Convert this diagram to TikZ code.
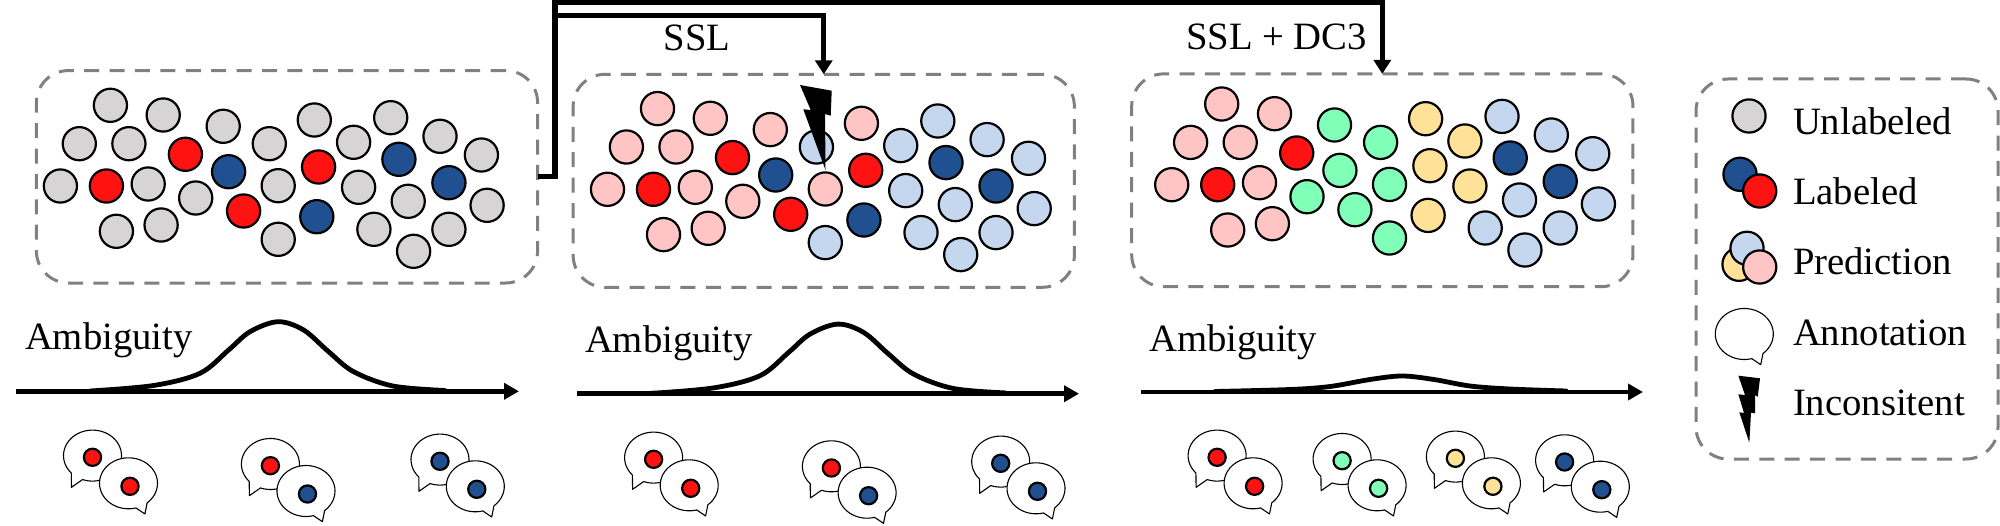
\documentclass[tikz,border=0pt]{standalone}
\usepackage{fontspec}
\setmainfont{Liberation Serif}
\usetikzlibrary{arrows.meta}
\definecolor{cgray}{HTML}{D6D4D5}
\definecolor{cred}{HTML}{FF1212}
\definecolor{cblue}{HTML}{20508F}
\definecolor{cpink}{HTML}{FFC5C5}
\definecolor{clb}{HTML}{C5D6EF}
\definecolor{cgreen}{HTML}{80FFB9}
\definecolor{cyel}{HTML}{FFE297}
\definecolor{cdash}{HTML}{808080}
\tikzset{
  dotc/.style={circle,draw=black,line width=1.1bp,minimum size=16.6bp,inner sep=0pt,outer sep=0pt},
  dots/.style={circle,draw=black,line width=1.1bp,minimum size=8.6bp,inner sep=0pt,outer sep=0pt},
  panel/.style={draw=cdash,line width=1.5bp,dash pattern=on 7.5bp off 5.2bp,rounded corners=16bp,inner sep=0pt,outer sep=0pt},
  conn/.style={draw=black,line width=2.7bp,-{Triangle[length=7bp,width=8.5bp]}},
  axisline/.style={draw=black,line width=2.4bp,-{Triangle[length=7.5bp,width=8bp]}},
  curve/.style={draw=black,line width=2.4bp,line cap=round,smooth,tension=0.55},
  bub/.style={draw=black,fill=white,line width=0.55bp,line join=round},
  lab/.style={inner sep=0pt,outer sep=0pt,anchor=base west,font=\fontsize{19.35bp}{22bp}\selectfont}
}
\newcommand\bubL[2]{\draw[bub,shift={(#1,#2)}] plot[domain=137:470,samples=60] ({29*cos(\x)},{25.5*sin(\x)}) -- (-21,31.7) -- cycle;}
\newcommand\bubR[2]{\draw[bub,shift={(#1,#2)}] plot[domain=50:-285,samples=60] ({29*cos(\x)},{25.5*sin(\x)}) -- (16.4,30.7) -- cycle;}
\newcommand\pair[7]{% name, ax, ay, acolor, bx, by, bcolor
  \bubL{#2}{#3-1.7}
  \node[dots,fill=#4] (#1a) at (#2,#3) {};
  \bubR{#5-1.5}{#6-3}
  \node[dots,fill=#7] (#1b) at (#5,#6) {};
}
\begin{document}
\begin{tikzpicture}[x=0.5bp,y=-0.5bp]
\useasboundingbox (0,0) rectangle (2000,526);
% panels
\node[panel,minimum width=250.6bp,minimum height=106.2bp] (box1) at (287,176.8) {};
\node[panel,minimum width=250.6bp,minimum height=106.5bp] (box2) at (823.75,180.8) {};
\node[panel,minimum width=250.6bp,minimum height=106.4bp] (box3) at (1382.3,180.3) {};
\node[panel,minimum width=151bp,minimum height=190bp] (legend) at (1847,269) {};
% dots
\foreach \x/\y/\a/\b/\c [count=\i] in {
110.4/105.3/cgray/cpink/cpink,
163.2/115/cgray/cpink/cpink,
223.2/126.3/cgray/cpink/cgreen,
269.3/143.7/cgray/clb/cgreen,
314.3/120/cgray/cpink/cyel,
353.6/142.3/cgray/clb/cyel,
390.7/117.7/cgray/clb/clb,
440/136.3/cgray/clb/clb,
481.4/155/cgray/clb/clb,
79.3/143.7/cgray/cpink/cpink,
128.9/143.7/cgray/cpink/cpink,
60.4/186/cgray/cpink/cpink,
148.2/184/cgray/cpink/cpink,
195.7/198/cgray/cpink/cgreen,
278.2/185.7/cgray/cpink/cgreen,
358.6/187.3/cgray/clb/cyel,
408.2/201.3/cgray/clb/clb,
487.1/205.3/cgray/clb/clb,
116.4/231.3/cgray/cpink/cpink,
161.1/225/cgray/cpink/cpink,
278.2/239.3/cgray/clb/cgreen,
373.9/229.3/cgray/clb/clb,
448.9/229.3/cgray/clb/clb,
413.6/251.3/cgray/clb/clb,
185.4/154.3/cred/cred/cred,
106.4/186/cred/cred/cred,
318.6/167/cred/cred/cyel,
243.6/211/cred/cred/cgreen,
228.6/171.7/cblue/cblue/cgreen,
398.9/159.3/cblue/cblue/cblue,
448.9/182.7/cblue/cblue/cblue,
316.8/216.7/cblue/cblue/cyel}
{
  \node[dotc,fill=\a] (pa\i) at (\x,\y) {};
  \node[dotc,fill=\b] (pb\i) at (\x+547.1,\y+3.3) {};
  \node[dotc,fill=\c] (pc\i) at (\x+1111.3,\y-1.3) {};
}
% bolt panel 2
\fill[black] (800,85) -- (831.7,90.7) -- (830.7,115.7) -- (825,114) -- (825.5,170) -- (803.3,109.3) -- (810.7,110) -- cycle;
% connectors
\coordinate (railA) at (555,15.7);
\coordinate (railB) at (555,2.5);
\draw[conn] (box1.east) -| (railA) -| (box2.north);
\draw[conn] (box1.east) -| (railB) -| (box3.north);
% connector labels
\node[lab] (lssl) at (663.5,51) {SSL};
\node[lab] (ldc) at (1186,50) {SSL + DC3};
% ambiguity
\node[lab] (amb1) at (25,349.3) {Ambiguity};
\node[lab] (amb2) at (585,352.3) {Ambiguity};
\node[lab] (amb3) at (1149.3,351) {Ambiguity};
\coordinate (a1s) at (16,391.3); \coordinate (a1e) at (519,391.3);
\coordinate (a2s) at (576.8,393.7); \coordinate (a2e) at (1079,393.7);
\coordinate (a3s) at (1141.4,392); \coordinate (a3e) at (1643,392);
\draw[curve] plot coordinates {(90,391)(153.6,385.5)(200,373.3)(228.6,350)(250,331.7)(277.9,321.7)(303.6,330)(328.6,351.7)(353.6,371.7)(392.9,386)(445,390.5)};
\begin{scope}[xshift=280bp,yshift=-1.2bp]
\draw[curve] plot coordinates {(90,391)(153.6,385.5)(200,373.3)(228.6,350)(250,331.7)(277.9,321.7)(303.6,330)(328.6,351.7)(353.6,371.7)(392.9,386)(445,390.5)};
\end{scope}
\draw[curve] plot coordinates {(1215,391.5)(1290,389.5)(1330,386.5)(1370,379.5)(1402,376)(1434,379.5)(1470,386)(1510,389)(1566,391)};
\draw[axisline] (a1s) -- (a1e);
\draw[axisline] (a2s) -- (a2e);
\draw[axisline] (a3s) -- (a3e);
% bubbles
\pair{g1}{92.5}{457.3}{cred}{130}{486.3}{cred}
\pair{g2}{270.4}{465.7}{cred}{307.5}{494}{cblue}
\pair{g3}{440}{461.3}{cblue}{476.8}{489.3}{cblue}
\pair{g4}{653.6}{459.3}{cred}{690.7}{488.3}{cred}
\pair{g5}{831.4}{468}{cred}{868.6}{495.7}{cblue}
\pair{g6}{1000.7}{463.3}{cblue}{1037.5}{491.3}{cblue}
\pair{g7}{1217.1}{457.3}{cred}{1254.6}{486.3}{cred}
\pair{g8}{1342.1}{460.7}{cgreen}{1378.6}{488.3}{cgreen}
\pair{g9}{1455.4}{458.3}{cyel}{1492.9}{486.3}{cyel}
\pair{g10}{1564.6}{462}{cblue}{1601.8}{489.7}{cblue}
% legend
\node[dotc,fill=cgray] (l1) at (1749,116) {};
\node[dotc,fill=cblue] (l2) at (1740,174.3) {};
\node[dotc,fill=cred] (l3) at (1759.7,191) {};
\node[dotc,fill=cyel] (l4) at (1739,264.3) {};
\node[dotc,fill=clb] (l5) at (1747,248.3) {};
\node[dotc,fill=cpink] (l6) at (1759.7,267) {};
\bubR{1744.3}{334}
\fill[black] (1738.3,375.7) -- (1760,378.3) -- (1757.7,396.7) -- (1755,395) -- (1755,413.3) -- (1751,412.7) -- (1749.3,442.7) -- (1739.3,412.3) -- (1744,413) -- (1738.3,394.3) -- (1745,395) -- cycle;
\node[lab] (t1) at (1793,135) {Unlabeled};
\node[lab] (t2) at (1793,205) {Labeled};
\node[lab] (t3) at (1793,275) {Prediction};
\node[lab] (t4) at (1793,345) {Annotation};
\node[lab] (t5) at (1793,415.5) {Inconsitent};
\end{tikzpicture}
\end{document}
